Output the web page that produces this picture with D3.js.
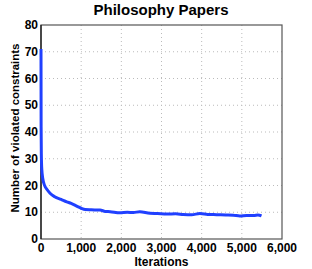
<!DOCTYPE html>
<html>
<head>
  <meta charset="utf-8">
  <script src="https://cdn.jsdelivr.net/npm/d3@7"></script>
  <style>
    body { margin: 0; background: #fff; }
    svg text { font-family: "Liberation Sans", Arial, sans-serif; font-weight: bold; fill: #000; }
    .grid line { stroke: #bbb; stroke-dasharray: 1,3; }
  </style>
</head>
<body>
<svg width="312" height="269"></svg>
<script>

var iterations = [0, 3, 8, 20, 45, 90, 150, 225, 340, 500, 640, 750, 900, 1000, 1100, 1250, 1470, 1600, 1720, 1965, 2150, 2300, 2460, 2710, 2900, 3130, 3350, 3540, 3750, 3955, 4150, 4370, 4600, 4790, 4950, 5120, 5300, 5400, 5490];
var violated   = [71, 42, 32, 26, 22.5, 20, 18.5, 17.1, 15.8, 14.8, 13.9, 13.3, 12.2, 11.5, 11.0, 10.9, 10.8, 10.3, 10.2, 9.8, 10.0, 9.9, 10.2, 9.6, 9.5, 9.3, 9.4, 9.2, 9.1, 9.5, 9.2, 9.1, 9.0, 8.9, 8.6, 8.8, 8.8, 9.0, 8.6];
var xTicks = [0, 1000, 2000, 3000, 4000, 5000, 6000];
var yTicks = [0, 10, 20, 30, 40, 50, 60, 70, 80];

var svg = d3.select("svg"),
    margin = {top: 25, right: 30, bottom: 30, left: 41},
    width = +svg.attr("width") - margin.left - margin.right,
    height = 239 - margin.top;

var x = d3.scaleLinear().domain([0, 6000]).range([0, width]),
    y = d3.scaleLinear().domain([0, 80]).range([height, 0]);

var g = svg.append("g")
    .attr("transform", "translate(" + margin.left + "," + margin.top + ")");

// dotted grid
g.append("g").attr("class", "grid")
  .selectAll("line").data(xTicks.slice(1, -1)).enter().append("line")
    .attr("x1", function(d) { return x(d); }).attr("x2", function(d) { return x(d); })
    .attr("y1", 0).attr("y2", height);
g.append("g").attr("class", "grid")
  .selectAll("line").data(yTicks.slice(1, -1)).enter().append("line")
    .attr("y1", function(d) { return y(d); }).attr("y2", function(d) { return y(d); })
    .attr("x1", 0).attr("x2", width);

// box
g.append("rect")
    .attr("width", width).attr("height", height)
    .attr("fill", "none").attr("stroke", "#555").attr("stroke-width", 1.2);
g.append("line").attr("x1", 0).attr("x2", 0).attr("y1", 0).attr("y2", height)
    .attr("stroke", "#111").attr("stroke-width", 1.2);

var line = d3.line()
    .x(function(d, i) { return x(iterations[i]); })
    .y(function(d) { return y(d); })
    .curve(d3.curveMonotoneX);

g.append("path")
    .datum(violated)
    .attr("fill", "none")
    .attr("stroke", "#2040ff")
    .attr("stroke-width", 3)
    .attr("stroke-linejoin", "round")
    .attr("d", line);

// tick labels
g.selectAll(".xt").data(xTicks).enter().append("text")
    .attr("x", function(d) { return x(d); })
    .attr("y", height + 13)
    .attr("text-anchor", "middle")
    .style("font-size", "12px")
    .text(d3.format(","));
g.selectAll(".yt").data(yTicks).enter().append("text")
    .attr("x", -3)
    .attr("y", function(d) { return y(d); })
    .attr("dy", "0.35em")
    .attr("text-anchor", "end")
    .style("font-size", "12px")
    .text(function(d) { return d; });

svg.append("text")
    .attr("x", margin.left + width / 2).attr("y", 266)
    .attr("text-anchor", "middle").style("font-size", "12px")
    .text("Iterations");
svg.append("text")
    .attr("transform", "translate(19,128) rotate(-90)")
    .attr("text-anchor", "middle").style("font-size", "11.5px")
    .attr("textLength", 169).attr("lengthAdjust", "spacingAndGlyphs")
    .text("Number of violated constraints");
svg.append("text")
    .attr("x", 161).attr("y", 15)
    .attr("text-anchor", "middle").style("font-size", "15px")
    .text("Philosophy Papers");

</script>
</body>
</html>
